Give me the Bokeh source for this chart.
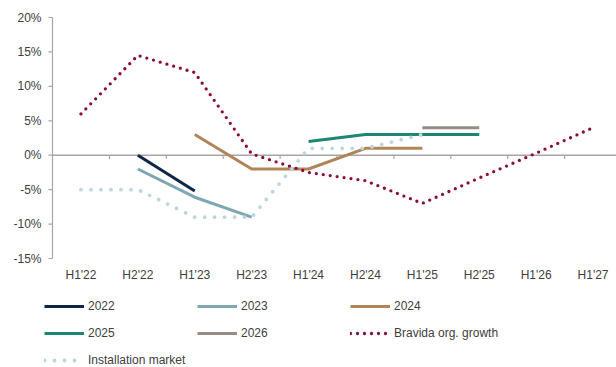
from bokeh.plotting import figure
from bokeh.models import Legend, LegendItem, Range1d, ColumnDataSource
from bokeh.embed import file_html
from bokeh.resources import INLINE

# Half-year periods on the x axis
periods = ["H1'22", "H2'22", "H1'23", "H2'23", "H1'24", "H2'24",
           "H1'25", "H2'25", "H1'26", "H1'27"]

# Market growth outlooks by year (%)
periods_2022 = ["H2'22", "H1'23"]
growth_2022 = [0.0, -5.2]

periods_2023 = ["H2'22", "H1'23", "H2'23"]
growth_2023 = [-2.0, -6.1, -9.0]

periods_2024 = ["H1'23", "H2'23", "H1'24", "H2'24", "H1'25"]
growth_2024 = [3.0, -2.0, -2.0, 1.0, 1.0]

periods_2025 = ["H1'24", "H2'24", "H1'25", "H2'25"]
growth_2025 = [2.0, 3.0, 3.0, 3.0]

periods_2026 = ["H1'25", "H2'25"]
growth_2026 = [4.0, 4.0]

# Bravida organic growth (%)
periods_bravida = periods
growth_bravida = [6.0, 14.5, 12.0, 0.2, -2.5, -3.7, -7.0, -3.3, 0.3, 4.0]

# Installation market growth (%)
periods_market = ["H1'22", "H2'22", "H1'23", "H2'23", "H1'24", "H2'24", "H1'25"]
growth_market = [-5.0, -5.0, -9.0, -9.0, 1.0, 1.0, 3.0]

y_ticks = [-15, -10, -5, 0, 5, 10, 15, 20]
y_tick_labels = [f"{t}%" for t in y_ticks]
Y_MIN, Y_MAX = -15, 20

TEXT = "#404040"
AXIS = "#a6a6a6"
FONT = "Liberation Sans"

W, H = 616, 367
AXIS_X = 52                # pixel column of the value axis
PLOT_TOP = 17              # pixel row of the 20% level
PLOT_BOTTOM = 258          # pixel row of the -15% level
STEP = 56.9                # pixels per half-year

# the frame covers the whole canvas; the axes and legend are drawn inside it
x_start = -0.5 - AXIS_X / STEP
x_end = -0.5 + (W - AXIS_X) / STEP
px_per_unit = (PLOT_BOTTOM - PLOT_TOP) / (Y_MAX - Y_MIN)
y_start = Y_MIN - (H - PLOT_BOTTOM) / px_per_unit
y_end = Y_MAX + PLOT_TOP / px_per_unit

styles = {
    "2022": dict(line_color="#0c2646", line_width=3),
    "2023": dict(line_color="#7fa6b3", line_width=3),
    "2024": dict(line_color="#b0855a", line_width=3),
    "2025": dict(line_color="#1b8672", line_width=3),
    "2026": dict(line_color="#978c85", line_width=3),
    "Bravida org. growth": dict(line_color="#8b0b3b", line_width=3.3,
                                line_dash="0 7", line_cap="round"),
    "Installation market": dict(line_color="#bcd6de", line_width=3.8,
                                line_dash="0 10", line_cap="round"),
}

p = figure(width=W, height=H, output_backend="svg", toolbar_location=None,
           x_range=Range1d(x_start, x_end), y_range=Range1d(y_start, y_end),
           x_axis_location=None, y_axis_location=None,
           min_border=0, outline_line_color=None,
           background_fill_color="white", border_fill_color="white")
p.xgrid.visible = False
p.ygrid.visible = False

idx = {name: i for i, name in enumerate(periods)}
n = len(periods)
tick_len = 4 / STEP

# value axis: line, outward ticks and percentage labels
p.segment(x0=[-0.5], x1=[-0.5], y0=[Y_MIN], y1=[Y_MAX], line_color=AXIS, line_width=1.2)
p.segment(x0=[-0.5] * len(y_ticks), x1=[-0.5 - tick_len] * len(y_ticks),
          y0=y_ticks, y1=y_ticks, line_color=AXIS, line_width=1.2)
p.text(x=[-0.5] * len(y_ticks), y=y_ticks, text=y_tick_labels, x_offset=-11,
       text_align="right", text_baseline="middle",
       text_font={"value": FONT}, text_font_size="12px", text_color=TEXT)

# zero line with category separators hanging below it
p.segment(x0=[-0.5], x1=[x_end], y0=[0], y1=[0], line_color=AXIS, line_width=1.5)
sep_x = [i + 0.5 for i in range(n - 1)]
p.segment(x0=sep_x, x1=sep_x, y0=[0] * len(sep_x), y1=[-0.55] * len(sep_x),
          line_color=AXIS, line_width=1.2)

# period labels under the plot area
p.text(x=list(range(n)), y=[Y_MIN] * n, text=periods, y_offset=16,
       text_align="center", text_baseline="middle",
       text_font={"value": FONT}, text_font_size="12px", text_color=TEXT)

def draw(pers, vals, label):
    src = ColumnDataSource(dict(x=[idx[q] for q in pers], y=vals))
    return p.line("x", "y", source=src, **styles[label])

renderers = {
    "2022": draw(periods_2022, growth_2022, "2022"),
    "2023": draw(periods_2023, growth_2023, "2023"),
    "2024": draw(periods_2024, growth_2024, "2024"),
    "2025": draw(periods_2025, growth_2025, "2025"),
    "2026": draw(periods_2026, growth_2026, "2026"),
    "Installation market": draw(periods_market, growth_market, "Installation market"),
    "Bravida org. growth": draw(periods_bravida, growth_bravida, "Bravida org. growth"),
}

order = ["2022", "2023", "2024", "2025", "2026",
         "Bravida org. growth", "Installation market"]
legend = Legend(items=[LegendItem(label=k, renderers=[renderers[k]]) for k in order],
                orientation="horizontal", ncols=3, location=(44, -3),
                glyph_width=40, glyph_height=20, label_height=20, label_width=102,
                label_standoff=4, spacing=7, padding=0, margin=0,
                border_line_color=None, background_fill_alpha=0,
                label_text_font=FONT, label_text_font_size="12px",
                label_text_color=TEXT)
p.add_layout(legend, "center")

open("out.html", "w").write(file_html(p, INLINE))
